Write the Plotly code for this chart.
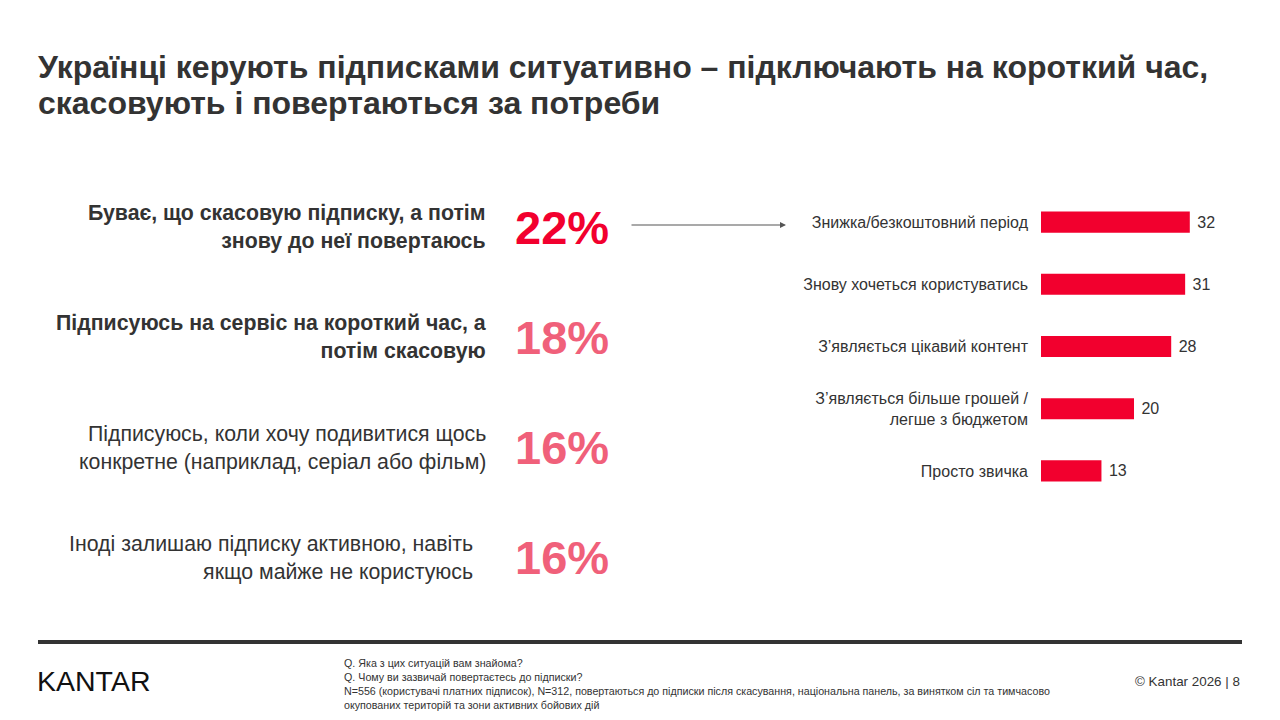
import plotly.graph_objects as go

# the page body has an 8px margin, so the figure is drawn 8px smaller and
# reference pixel positions are shifted by that amount
PAGE_MARGIN = 8
W, H = 1280 - PAGE_MARGIN, 720 - PAGE_MARGIN
FONT = "Arial, Liberation Sans, sans-serif"
DARK = "#333333"
RED = "#F2002E"
PINK = "#F0607A"

TITLE_LINES = [
    "Українці керують підписками ситуативно – підключають на короткий час,",
    "скасовують і повертаються за потреби",
]

# left block: situations and share of respondents (%)
statements = [
    "Буває, що скасовую підписку, а потім<br>знову до неї повертаюсь",
    "Підписуюсь на сервіс на короткий час, а<br>потім скасовую",
    "Підписуюсь, коли хочу подивитися щось<br>конкретне (наприклад, серіал або фільм)",
    "Іноді залишаю підписку активною, навіть<br>якщо майже не користуюсь",
]
statement_pct = [22, 18, 16, 16]

# right block: reasons for returning to a subscription
reasons = [
    "Знижка/безкоштовний період",
    "Знову хочеться користуватись",
    "З’являється цікавий контент",
    "З’являється більше грошей /<br>легше з бюджетом",
    "Просто звичка",
]
reason_values = [32, 31, 28, 20, 13]

FOOTNOTE = ("Q. Яка з цих ситуацій вам знайома?<br>"
            "Q. Чому ви зазвичай повертаєтесь до підписки?<br>"
            "N=556 (користувачі платних підписок), N=312, повертаються до підписки після скасування, "
            "національна панель, за винятком сіл та тимчасово<br>"
            "окупованих територій та зони активних бойових дій")


def px(x):
    return (x - PAGE_MARGIN) / W


def py(y):
    return 1 - (y - PAGE_MARGIN) / H


fig = go.Figure()

fig.add_trace(go.Bar(
    x=reason_values, y=reasons, orientation="h",
    marker=dict(color=RED, line=dict(width=0)),
    width=0.34,
    text=reason_values, texttemplate="\u00a0%{text}", textposition="outside",
    textfont=dict(family=FONT, size=16, color=DARK),
    cliponaxis=False, hoverinfo="skip",
))

# invisible trace on the second axis pair so the statement rows have a scale
fig.add_trace(go.Scatter(
    x=[0] * len(statements), y=statements, xaxis="x2", yaxis="y2",
    mode="markers", marker=dict(opacity=0), hoverinfo="skip", showlegend=False,
))

for i, (s, p) in enumerate(zip(statements, statement_pct)):
    bold = i < 2
    right = px(475) if i == 3 else px(488)
    fig.add_annotation(
        x=right, xref="paper", y=s, yref="y2", xanchor="right", yanchor="middle",
        text=f"<b>{s}</b>" if bold else s, align="right", showarrow=False,
        font=dict(family=FONT, size=21.3, color=DARK),
    )
    fig.add_annotation(
        x=px(513), xref="paper", y=s, yref="y2", xanchor="left", yanchor="middle",
        text=f"<b>{p}%</b>", showarrow=False,
        font=dict(family=FONT, size=47, color=RED if i == 0 else PINK),
    )

# arrow from the first statement to the reasons chart
fig.add_annotation(
    x=px(786), y=py(225), xref="paper", yref="paper",
    ax=-156, ay=0, text="", showarrow=True,
    arrowhead=2, arrowsize=1, arrowwidth=1.2, arrowcolor="#555555",
)

for k, line in enumerate(TITLE_LINES):
    fig.add_annotation(
        x=px(36), y=py(67 + 36 * k), xref="paper", yref="paper",
        xanchor="left", yanchor="middle",
        text=f"<b>{line}</b>", showarrow=False,
        font=dict(family=FONT, size=32, color=DARK),
    )

# footer
fig.add_shape(type="line", xref="paper", yref="paper",
              x0=px(38), x1=px(1242), y0=py(642), y1=py(642),
              line=dict(color=DARK, width=4))
fig.add_annotation(
    x=px(35), y=py(681), xref="paper", yref="paper", xanchor="left", yanchor="middle",
    text="KANTAR", showarrow=False,
    font=dict(family=FONT, size=28.5, color="#111111"),
)
fig.add_annotation(
    x=px(342), y=py(655), xref="paper", yref="paper", xanchor="left", yanchor="top",
    text=FOOTNOTE, align="left", showarrow=False,
    font=dict(family=FONT, size=10.7, color=DARK),
)
fig.add_annotation(
    x=px(1242), y=py(681), xref="paper", yref="paper", xanchor="right", yanchor="middle",
    text="© Kantar 2026 | 8", showarrow=False,
    font=dict(family=FONT, size=13.4, color=DARK),
)

fig.update_layout(
    width=W, height=H,
    margin=dict(l=0, r=0, t=0, b=0),
    paper_bgcolor="white", plot_bgcolor="white",
    showlegend=False,
    font=dict(family=FONT, color=DARK),
    xaxis=dict(domain=[px(1041), px(1227)], range=[0, 40], visible=False, fixedrange=True),
    yaxis=dict(domain=[py(502), py(191)], autorange="reversed",
               showgrid=False, zeroline=False, showline=False, ticks="",
               ticklabelstandoff=12,
               tickfont=dict(family=FONT, size=16, color=DARK)),
    xaxis2=dict(domain=[0, px(700)], range=[0, 1], visible=False, anchor="y2"),
    yaxis2=dict(domain=[py(613), py(172)], range=[len(statements) - 0.5, -0.5],
                visible=False, anchor="x2", type="category"),
)

fig.write_html("out.html")
